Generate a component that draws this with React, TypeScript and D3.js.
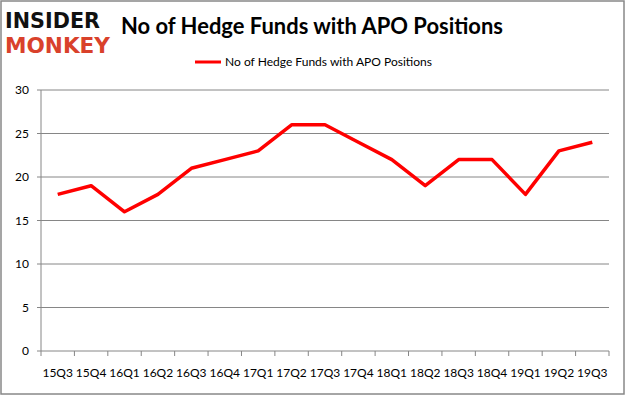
import React from "react";
import * as d3 from "d3";

const categories = ["15Q3","15Q4","16Q1","16Q2","16Q3","16Q4","17Q1","17Q2","17Q3","17Q4","18Q1","18Q2","18Q3","18Q4","19Q1","19Q2","19Q3"];
const values = [18,19,16,18,21,22,23,26,26,24,22,19,22,22,18,23,24];
const yTicks = [0,5,10,15,20,25,30];
const seriesName = "No of Hedge Funds with APO Positions";
const title = "No of Hedge Funds with APO Positions";

export default function App() {
  const W = 626, H = 397;
  const left = 41, right = 609, top = 90, bottom = 351;
  const x = d3.scaleBand<string>().domain(categories).range([left, right]);
  const y = d3.scaleLinear().domain([0, 30]).range([bottom, top]);
  const line = d3.line<number>()
    .x((_, i) => (x(categories[i]) as number) + x.bandwidth() / 2)
    .y((d) => y(d));
  const font = "Lato, 'Open Sans', sans-serif";
  const boundaries = [...categories.map((c) => x(c) as number), right];
  return (
    <svg width={W} height={H} style={{ position: "absolute", left: 0, top: 0, background: "#fff" }}>
      <rect x={1} y={1} width={623} height={393} fill="#fff" stroke="#888" strokeWidth={1.5} />
      {/* logo */}
      <text x={5} y={28} fontFamily="'DejaVu Sans', sans-serif" fontWeight="900" fontSize={21} fill="#111" textLength={95} lengthAdjust="spacingAndGlyphs">INSIDER</text>
      <text x={5} y={53} fontFamily="'DejaVu Sans', sans-serif" fontWeight="900" fontSize={21} fill="#d9412b" textLength={105} lengthAdjust="spacingAndGlyphs">MONKEY</text>
      {/* title */}
      <text x={312} y={34} textAnchor="middle" fontFamily={font} fontWeight="bold" fontSize={22} fill="#000" textLength={382} lengthAdjust="spacingAndGlyphs">{title}</text>
      {/* legend */}
      <line x1={195} x2={221} y1={62} y2={62} stroke="#ff0000" strokeWidth={3} />
      <text x={225} y={66} fontFamily={font} fontSize={12} fill="#000" textLength={207} lengthAdjust="spacingAndGlyphs">{seriesName}</text>
      {/* gridlines */}
      {yTicks.map((t) => (
        <g key={t}>
          <line x1={left - 4} x2={right} y1={y(t)} y2={y(t)} stroke="#868686" strokeWidth={1} />
          <text x={29} y={y(t) + 4} textAnchor="end" fontFamily={font} fontSize={12} fill="#000">{t}</text>
        </g>
      ))}
      <line x1={left} x2={left} y1={top} y2={bottom} stroke="#868686" strokeWidth={1} />
      {boundaries.map((b, i) => (
        <line key={i} x1={b} x2={b} y1={bottom} y2={bottom + 5} stroke="#868686" strokeWidth={1} />
      ))}
      {categories.map((c) => (
        <text key={c} x={(x(c) as number) + x.bandwidth() / 2} y={377} textAnchor="middle" fontFamily={font} fontSize={12} fill="#000">{c}</text>
      ))}
      <path d={line(values) || ""} fill="none" stroke="#ff0000" strokeWidth={3.5} strokeLinejoin="round" />
    </svg>
  );
}
